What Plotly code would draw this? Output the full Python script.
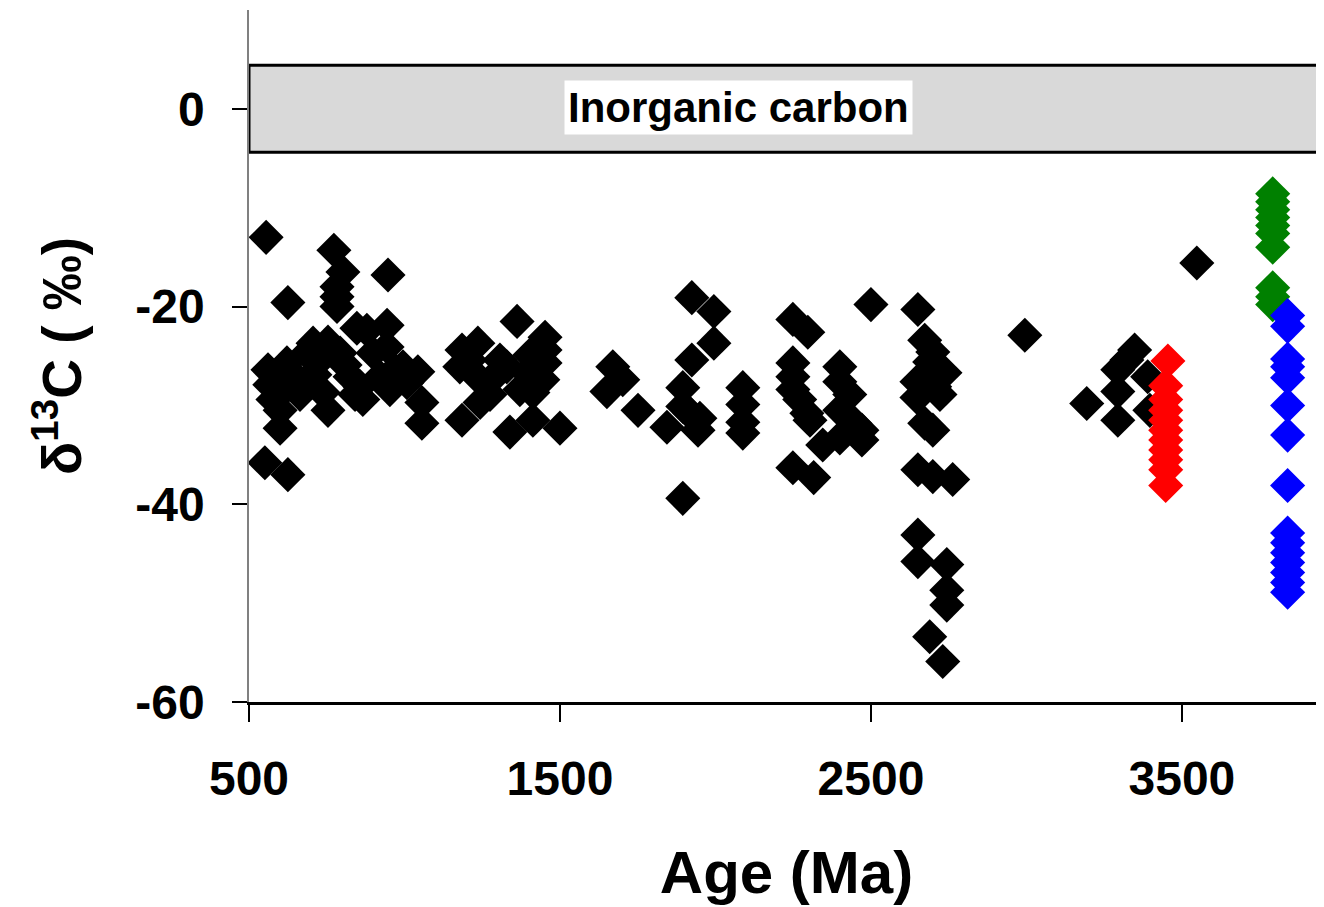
import plotly.graph_objects as go

# ---- data (Age in Ma, delta13C in permil) ----
black_age = [555, 773, 802, 947, 783, 783, 783, 625, 847, 944, 706, 754, 561, 622, 793, 899, 944, 1043,
             995, 622, 686, 738, 866, 1056, 754, 600, 600, 1056, 551, 625, 577, 953, 1008, 921, 825, 857,
             728, 686, 879, 664, 809, 969, 632, 712, 841, 567,
             1185, 1236, 1362, 1452, 1452, 1178, 1329, 1394, 1452, 1445, 1243, 1243, 1413, 1413, 1500, 1185,
             1339, 1291, 1371, 1307, 1275, 1210, 1403,
             1670, 1651, 1751, 1702,
             1924, 1995, 1995, 1924, 1895, 1895, 1844, 1944, 1918, 1895, 2088, 2088, 2088, 2088, 1950,
             2249, 2297, 2249, 2249, 2249, 2294, 2400, 2400, 2400, 2448, 2345, 2400, 2249, 2316, 2271, 2304,
             2432, 2471, 2471,
             2500, 2651, 2673, 2699, 2738, 2648, 2705, 2648, 2673, 2699, 2651, 2699, 2763, 2651, 2651, 2744,
             2744, 2744, 2689, 2731, 2689, 2722,
             2995, 3348, 3323, 3294, 3390, 3294, 3194, 3294, 3397, 3548]
black_d13c = [-13.0, -14.3, -16.5, -16.8, -18.0, -19.0, -20.0, -19.6, -22.2, -21.9, -23.7, -23.6, -26.4, -25.7,
              -24.7, -24.7, -24.1, -26.6, -26.1, -28.1, -27.4, -28.7, -29.4, -29.7, -30.5, -30.5, -32.3, -31.8,
              -35.8, -37.0, -29.4, -28.4, -27.7, -27.1, -27.1, -28.1, -25.4, -24.7, -22.4, -28.9, -25.9, -26.4,
              -26.6, -26.9, -28.9, -27.9,
              -24.4, -23.7, -21.5, -23.1, -24.4, -26.1, -26.1, -26.7, -25.7, -27.4, -27.4, -29.7, -28.7, -31.5,
              -32.3, -31.5, -32.7, -27.0, -28.4, -25.4, -28.9, -25.4, -24.9,
              -26.1, -28.6, -30.5, -27.4,
              -19.1, -20.5, -23.7, -25.4, -28.2, -30.1, -32.2, -32.5, -30.8, -39.4, -28.2, -29.9, -31.7, -32.8,
              -31.3,
              -21.3, -22.6, -25.7, -27.1, -28.4, -30.8, -26.1, -27.6, -30.5, -31.8, -34.0, -33.3, -36.3, -37.3,
              -29.4, -31.5, -28.9, -32.5, -33.5,
              -19.8, -20.3, -23.4, -24.6, -26.7, -27.6, -28.1, -29.2, -31.8, -32.5, -36.5, -37.2, -37.5, -43.1,
              -45.8, -46.1, -48.7, -50.2, -53.4, -55.9, -25.6, -28.9,
              -22.9, -24.4, -25.4, -26.4, -27.1, -28.6, -29.8, -31.5, -30.5, -15.6]

red_age = [3455, 3448, 3448, 3448, 3448, 3448, 3448, 3448, 3448, 3448, 3448]
red_d13c = [-25.5, -28.0, -29.4, -30.5, -31.5, -32.5, -33.5, -34.5, -35.5, -36.5, -38.1]

green_age = [3792] * 10
green_d13c = [-8.6, -9.4, -10.2, -11.0, -11.8, -12.6, -14.0, -18.1, -19.0, -19.8]

blue_age = [3840] * 15
blue_d13c = [-20.9, -22.0, -25.3, -26.1, -27.2, -30.0, -33.0, -38.1, -42.9, -43.9, -44.9, -45.9,
             -46.9, -47.9, -48.9]

inorganic_low, inorganic_high = -4.4, 4.4
x_ticks = [500, 1500, 2500, 3500]
y_ticks = [-60, -40, -20, 0]

FONT = "Arial, 'Liberation Sans', sans-serif"
MSIZE = 27

fig = go.Figure()

fig.add_shape(type="rect", xref="x", yref="y", x0=500, x1=3952, y0=inorganic_low, y1=inorganic_high,
              fillcolor="#d9d9d9", line=dict(color="black", width=3), layer="below")

for ages, vals, col in [(black_age, black_d13c, "black"), (red_age, red_d13c, "#ff0000"),
                        (green_age, green_d13c, "#008000"), (blue_age, blue_d13c, "#0000ff")]:
    fig.add_trace(go.Scatter(x=ages, y=vals, mode="markers",
                             marker=dict(symbol="diamond", size=MSIZE, color=col, line=dict(width=0)),
                             showlegend=False, cliponaxis=False))

fig.add_annotation(x=2075, y=0.1, xref="x", yref="y", text="<b>Inorganic carbon</b>", showarrow=False,
                   font=dict(family=FONT, size=42, color="black"), bgcolor="white", borderpad=3)

# page body has an 8px margin, so the figure is drawn slightly smaller
fig.update_layout(
    width=1316, height=899,
    margin=dict(l=241, r=0, t=2, b=205),
    plot_bgcolor="white", paper_bgcolor="white",
    font=dict(family=FONT, color="black"),
)

fig.update_xaxes(range=[500, 3957], tickvals=x_ticks, ticktext=[f"<b>{v}</b>" for v in x_ticks],
                 showgrid=False, zeroline=False, showline=True, linecolor="black", linewidth=3,
                 ticks="outside", ticklen=17, tickwidth=2, tickcolor="black", automargin=False,
                 tickfont=dict(family=FONT, size=48), ticklabelstandoff=15,
                 title=dict(text="<b>Age (Ma)</b>", font=dict(family=FONT, size=60), standoff=48))

fig.update_yaxes(range=[-60, 10], tickvals=y_ticks, ticktext=[f"<b>{v}</b>" for v in y_ticks],
                 showgrid=False, zeroline=False, showline=True, linecolor="#808080", linewidth=1.5,
                 ticks="outside", ticklen=15, tickwidth=1.5, tickcolor="black", automargin=False,
                 tickfont=dict(family=FONT, size=48), ticklabelstandoff=18,
                 title=dict(text="<b>δ<sup>13</sup>C ( ‰)</b>", font=dict(family=FONT, size=55), standoff=36))

fig.write_html("out.html")
